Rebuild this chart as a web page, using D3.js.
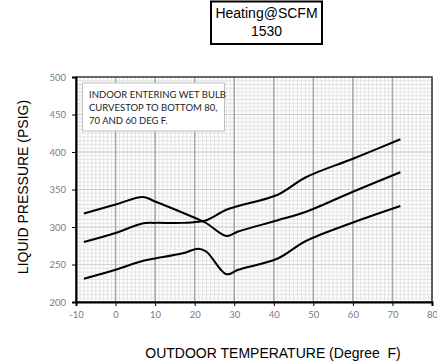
<!DOCTYPE html>
<html><head><meta charset="utf-8">
<script src="https://cdn.jsdelivr.net/npm/d3@7"></script>
<style>body{margin:0;background:#fff}svg{display:block}</style>
</head><body>
<script>
const temps = [-8, 0, 7, 10, 17, 21, 23, 28, 31, 41, 48, 60, 72];
const seriesA = [318, 330, 340, 334, 319, 310, 305, 288, 294, 309, 320, 347, 373];
const seriesB = [280, 292, 305, 305.5, 305.5, 307, 309, 323, 328, 343, 366, 391, 417];
const seriesC = [231, 243, 255, 258, 265, 271, 267, 237, 243, 258, 281, 306, 328];
const xTicks = [-10, 0, 10, 20, 30, 40, 50, 60, 70, 80];
const yTicks = [200, 250, 300, 350, 400, 450, 500];
const titleLines = ["Heating@SCFM", "1530"];
const noteLines = ["INDOOR ENTERING WET BULB", "CURVESTOP TO BOTTOM 80,", "70 AND 60 DEG F."];

const W = 437, H = 362;
const svg = d3.select("body").append("svg").attr("width", W).attr("height", H);
const x = d3.scaleLinear().domain([-10, 80]).range([76, 432]);
const y = d3.scaleLinear().domain([200, 500]).range([302, 77]);

// minor grid
const g = svg.append("g");
g.selectAll(".vmin").data(d3.range(-10, 81, 1)).join("line")
  .attr("x1", d => x(d)).attr("x2", d => x(d)).attr("y1", y(500)).attr("y2", y(200))
  .attr("stroke", "#e3e3e3").attr("stroke-width", 1);
g.selectAll(".hmin").data(d3.range(200, 501, 5)).join("line")
  .attr("x1", x(-10)).attr("x2", x(80)).attr("y1", d => y(d)).attr("y2", d => y(d))
  .attr("stroke", "#e3e3e3").attr("stroke-width", 1);
g.selectAll(".hmaj").data(yTicks).join("line")
  .attr("x1", x(-10)).attr("x2", x(80)).attr("y1", d => y(d)).attr("y2", d => y(d))
  .attr("stroke", "#d0d0d0").attr("stroke-width", 1);
g.selectAll(".vmaj").data(xTicks).join("line")
  .attr("x1", d => x(d)).attr("x2", d => x(d)).attr("y1", y(500)).attr("y2", y(200))
  .attr("stroke", "#a6a6a6").attr("stroke-width", 1.5);

// plot border
svg.append("rect").attr("x", x(-10)).attr("y", y(500)).attr("width", x(80) - x(-10)).attr("height", y(200) - y(500))
  .attr("fill", "none").attr("stroke", "#404040").attr("stroke-width", 1.5);

// axes
const xAxis = svg.append("g").attr("transform", `translate(0,${y(200)})`)
  .call(d3.axisBottom(x).tickValues(xTicks).tickFormat(d => String(d)).tickSize(4).tickPadding(5));
const yAxis = svg.append("g").attr("transform", `translate(${x(-10)},0)`)
  .call(d3.axisLeft(y).tickValues(yTicks).tickFormat(d => String(d)).tickSize(4).tickPadding(6));
[xAxis, yAxis].forEach(a => {
  a.select(".domain").attr("stroke", "#000").attr("stroke-width", 2);
  a.selectAll(".tick line").attr("stroke", "#000");
  a.selectAll("text").attr("fill", "#7a7a7a").attr("font-family", "Lato, 'Open Sans', sans-serif").attr("font-size", 9.5);
});

// curves
const line = d3.line().x(d => x(d[0])).y(d => y(d[1])).curve(d3.curveCatmullRom.alpha(0.5));
[seriesA, seriesB, seriesC].forEach(s => {
  svg.append("path").attr("d", line(temps.map((t, i) => [t, s[i]])))
    .attr("fill", "none").attr("stroke", "#000").attr("stroke-width", 2);
});

// note box
svg.append("rect").attr("x", 82.5).attr("y", 83).attr("width", 142).attr("height", 48)
  .attr("fill", "#fff").attr("stroke", "#bfbfbf").attr("stroke-width", 1);
noteLines.forEach((t, i) => {
  svg.append("text").attr("x", 89).attr("y", 97.5 + i * 13)
    .attr("font-family", "Lato, 'Open Sans', sans-serif").attr("font-size", 9.5).attr("fill", "#222").text(t);
});

// title box
svg.append("rect").attr("x", 211).attr("y", 1.5).attr("width", 111).attr("height", 42.5)
  .attr("fill", "#fff").attr("stroke", "#000").attr("stroke-width", 2);
titleLines.forEach((t, i) => {
  svg.append("text").attr("x", 266.5).attr("y", 18 + i * 18).attr("text-anchor", "middle")
    .attr("font-family", "'Liberation Sans', Arial, sans-serif").attr("font-size", 14).attr("fill", "#000").text(t);
});

// axis titles
svg.append("text").attr("x", 273).attr("y", 358).attr("text-anchor", "middle")
  .attr("font-family", "'Liberation Sans', Arial, sans-serif").attr("font-size", 14).attr("fill", "#000")
  .attr("xml:space", "preserve").text("OUTDOOR TEMPERATURE (Degree  F)");
svg.append("text").attr("transform", "translate(28,187) rotate(-90)").attr("text-anchor", "middle")
  .attr("font-family", "'Liberation Sans', Arial, sans-serif").attr("font-size", 14).attr("fill", "#000")
  .text("LIQUID PRESSURE (PSIG)");
</script>
</body></html>
